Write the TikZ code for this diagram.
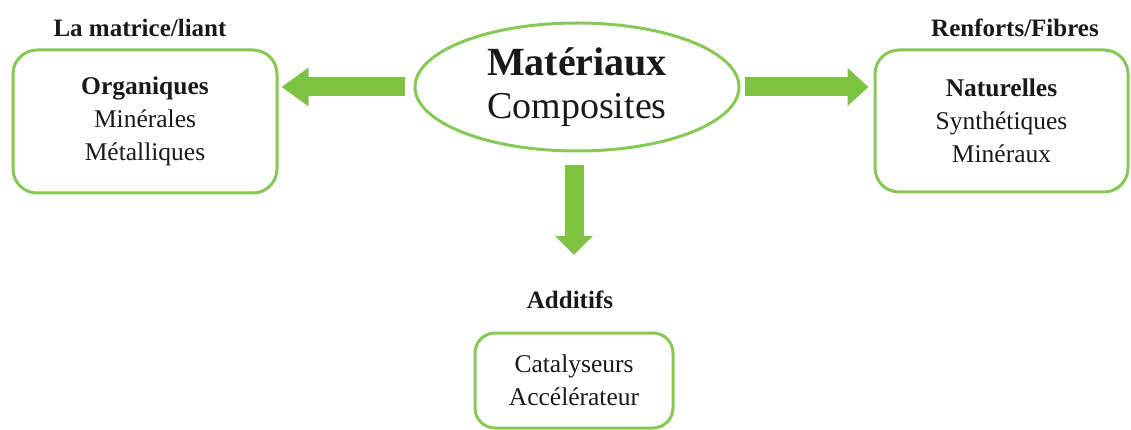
\documentclass[tikz,border=0pt]{standalone}
\usepackage{fontspec}
\setmainfont{Liberation Serif}
\usetikzlibrary{arrows.meta,shapes.geometric}
\definecolor{arrowgreen}{RGB}{125,195,65}
\definecolor{boxgreen}{RGB}{135,200,85}
\definecolor{inktext}{RGB}{25,25,25}
\tikzset{
  catbox/.style={draw=boxgreen, line width=3pt, rounded corners=24pt, align=center,
    text=inktext, font=\fontsize{25.5}{33}\selectfont, inner sep=0pt},
  cattitle/.style={text=inktext, font=\fontsize{25}{30}\selectfont\bfseries, inner sep=0pt, anchor=center},
  bigarrow/.style={draw=arrowgreen, line width=19pt, -{Triangle[length=#1,width=37pt]}},
  bigarrow/.default=24pt
}
\begin{document}
\begin{tikzpicture}[x=1pt,y=-1pt]
\useasboundingbox (0,0) rectangle (1131,430);
\node[draw=boxgreen, line width=3pt, ellipse, minimum width=324pt, minimum height=128pt,
  inner sep=0pt, align=center, text=inktext, font=\fontsize{38}{43}\selectfont] (ell) at (577,87)
  {{\fontsize{40}{43}\selectfont\bfseries Matériaux}\\Composites};
\node[catbox, minimum width=264pt, minimum height=143pt] (lbox) at (145,121.5)
  {\textbf{Organiques}\\Minérales\\Métalliques};
\node[catbox, minimum width=253pt, minimum height=142pt] (rbox) at (1001.5,121)
  {\textbf{Naturelles}\\Synthétiques\\Minéraux};
\node[catbox, rounded corners=20pt, minimum width=198pt, minimum height=95pt] (bbox) at (574,380.5)
  {Catalyseurs\\Accélérateur};
\node[cattitle] (ltitle) at (140,28) {La matrice/liant};
\node[cattitle] (rtitle) at (1015,28) {Renforts/Fibres};
\node[cattitle] (btitle) at (570,300) {Additifs};
\draw[bigarrow=27pt, shorten <=9pt, shorten >=3pt] (ell.west) -- (ell.west -| lbox.east);
\draw[bigarrow=21pt, shorten <=4pt, shorten >=5pt] (ell.east) -- (ell.east -| rbox.west);
\draw[bigarrow=19pt, shorten <=13pt, shorten >=36pt] (ell.south -| bbox.north) -- (btitle.north -| bbox.north);
\end{tikzpicture}
\end{document}
